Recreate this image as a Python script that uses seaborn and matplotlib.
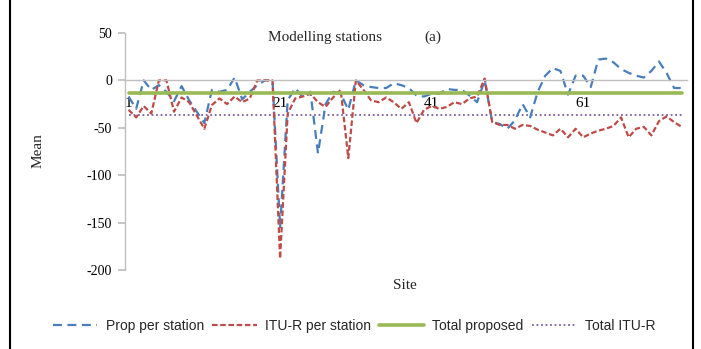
import numpy as np
import pandas as pd
import matplotlib
matplotlib.use("Agg")
import matplotlib.pyplot as plt
from matplotlib.lines import Line2D
import seaborn as sns

sites = list(range(1, 75))
prop_per_station = [
    -17, -30, 0, -10, -5, -12, -22, -6, -21, -33,
    -45, -10, -12, -10, 3, -20, -12, -5, 0, 0,
    -155, -21, -8, -18, -12, -77, -25, -12, -14, -31,
    0, -5, -7, -8, -8, -3, -5, -8, -16, -17,
    -14, -14, -9, -10, -10, -16, -23, 0, -44, -46,
    -51, -42, -25, -39, -12, 5, 13, 10, -15, 5,
    5, -7, 22, 23, 19, 12, 8, 5, 3, 10,
    20, 8, -8, -8]
itu_per_station = [
    -31, -39, -27, -35, 0, 0, -33, -18, -23, -37,
    -51, -26, -19, -25, -17, -23, -19, 0, 0, 0,
    -188, -35, -19, -17, -14, -23, -28, -18, -10, -82,
    0, -10, -21, -23, -18, -23, -30, -23, -45, -31,
    -27, -30, -28, -23, -25, -19, -17, 2, -44, -47,
    -47, -51, -47, -48, -52, -55, -58, -51, -60, -51,
    -60, -56, -53, -51, -48, -39, -60, -51, -49, -58,
    -43, -38, -44, -49]
total_proposed = -13
total_itu = -37
x_ticks = [1, 21, 41, 61]
y_ticks = [50, 0, -50, -100, -150, -200]

sns.set_theme(style="white")
plt.rcParams["font.family"] = ["Liberation Serif", "DejaVu Serif"]

fig = plt.figure(figsize=(7.01, 3.49), dpi=100)
ax = fig.add_axes([0.178, 0.2264, 0.802, 0.679])

c_blue = "#4A7EBB"
c_red = "#BE4B48"
c_green = "#98B954"
c_purple = "#7D60A0"

df = pd.DataFrame({
    "site": sites,
    "prop": prop_per_station,
    "itu": itu_per_station,
    "tprop": [total_proposed] * len(sites),
    "titu": [total_itu] * len(sites),
})

sns.lineplot(data=df, x="site", y="titu", ax=ax, color=c_purple, lw=1.3,
             linestyle=(0, (1, 1.5)), label="Total ITU-R")
sns.lineplot(data=df, x="site", y="prop", ax=ax, color=c_blue, lw=1.6,
             linestyle=(0, (4, 2.5)), label="Prop per station")
sns.lineplot(data=df, x="site", y="itu", ax=ax, color=c_red, lw=1.6,
             linestyle=(0, (2.5, 1.2)), label="ITU-R per station")
sns.lineplot(data=df, x="site", y="tprop", ax=ax, color=c_green, lw=2.6,
             label="Total proposed")

ax.set_xlim(0.5, 74.7)
ax.set_ylim(-200, 50)
ax.set_yticks(y_ticks)
ax.set_yticklabels([str(v) for v in y_ticks], fontsize=10)
ax.set_xticks(x_ticks)
ax.set_xticklabels([str(v) for v in x_ticks], fontsize=10)

for s in ["top", "right"]:
    ax.spines[s].set_visible(False)
ax.spines["bottom"].set_position(("data", 0))
ax.spines["bottom"].set_color("#BFBFBF")
ax.spines["left"].set_color("#BFBFBF")
ax.spines["bottom"].set_linewidth(1.0)
ax.spines["left"].set_linewidth(1.0)
ax.tick_params(axis="y", which="both", left=True, length=5, color="#BFBFBF",
               pad=4, labelcolor="black")
ax.tick_params(axis="x", which="both", bottom=False, length=0, pad=12,
               labelcolor="black")
ax.grid(False)

ax.set_xlabel("")
ax.set_ylabel("")
fig.text(0.054, 0.57, "Mean", rotation=90, ha="center", va="center", fontsize=11)
fig.text(0.578, 0.183, "Site", ha="center", va="center", fontsize=11)
fig.text(0.464, 0.892, "Modelling stations", ha="center", va="center", fontsize=11)
fig.text(0.618, 0.892, "(a)", ha="center", va="center", fontsize=11)

ax.get_legend().remove()
handles = [
    Line2D([], [], color=c_blue, lw=1.6, linestyle=(0, (4, 2.5))),
    Line2D([], [], color=c_red, lw=1.6, linestyle=(0, (2.5, 1.2))),
    Line2D([], [], color=c_green, lw=2.6),
    Line2D([], [], color=c_purple, lw=1.3, linestyle=(0, (1, 1.5))),
]
labels = ["Prop per station", "ITU-R per station", "Total proposed", "Total ITU-R"]
fig.legend(handles, labels, loc="center", bbox_to_anchor=(0.505, 0.066), ncol=4,
           frameon=False, prop={"family": "Liberation Sans", "size": 10},
           handlelength=3.2, handletextpad=0.6, columnspacing=0.6)

fig.add_artist(Line2D([0.0143, 0.0143], [0, 1], transform=fig.transFigure,
                      color="black", lw=1.5))
fig.add_artist(Line2D([0.9886, 0.9886], [0, 1], transform=fig.transFigure,
                      color="black", lw=1.5))

fig.savefig("out.png", dpi=100)
